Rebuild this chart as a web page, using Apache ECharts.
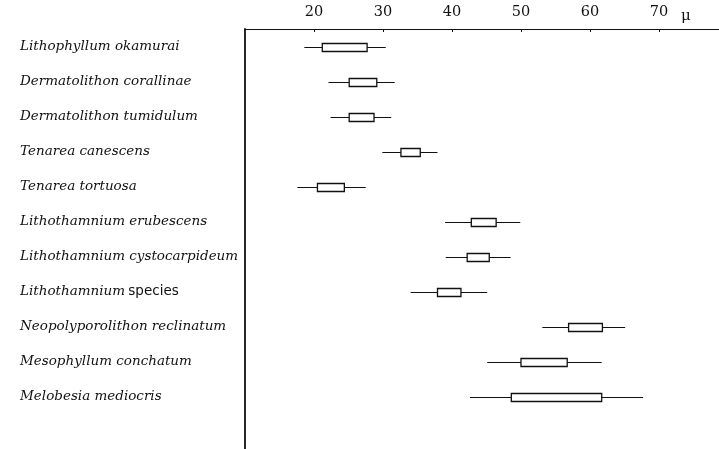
<!DOCTYPE html>
<html>
<head>
<meta charset="utf-8">
<script src="https://cdn.jsdelivr.net/npm/echarts@6/dist/echarts.min.js"></script>
<style>html,body{margin:0;padding:0;background:#fff;}#c{width:719px;height:449px;}</style>
</head>
<body>
<div id="c"></div>
<script>
var categories = [
  'Lithophyllum okamurai',
  'Dermatolithon corallinae',
  'Dermatolithon tumidulum',
  'Tenarea canescens',
  'Tenarea tortuosa',
  'Lithothamnium erubescens',
  'Lithothamnium cystocarpideum',
  'Lithothamnium species',
  'Neopolyporolithon reclinatum',
  'Mesophyllum conchatum',
  'Melobesia mediocris',
  ''
];
var minVals = [18.6, 22.1, 22.4, 29.9, 17.6, 39.0, 39.1, 34.0, 53.1, 45.1, 42.6];
var q1Vals  = [21.2, 25.1, 25.1, 32.6, 20.5, 42.8, 42.2, 37.9, 56.9, 50.0, 48.6];
var q3Vals  = [27.7, 29.1, 28.7, 35.4, 24.4, 46.4, 45.4, 41.3, 61.8, 56.7, 61.7];
var maxVals = [30.4, 31.7, 31.2, 37.9, 27.5, 49.9, 48.5, 45.1, 65.1, 61.7, 67.7];
var tickValues = [20, 30, 40, 50, 60, 70];
var unitLabel = 'μ';

var data = [];
for (var i = 0; i < minVals.length; i++) {
  data.push([i, minVals[i], q1Vals[i], q3Vals[i], maxVals[i]]);
}

var chart = echarts.init(document.getElementById('c'), null, {renderer: 'canvas'});
chart.setOption({
  animation: false,
  backgroundColor: '#fff',
  title: {
    text: unitLabel, left: 676, top: 4,
    textStyle: {fontFamily: 'DejaVu Serif', fontSize: 15, fontWeight: 'normal', color: '#111'}
  },
  grid: {left: 245, right: 0, top: 29, height: 422, containLabel: false},
  xAxis: {
    type: 'value', position: 'top', min: 10, max: 78.7, interval: 10,
    axisLine: {show: true, lineStyle: {color: '#111', width: 1}},
    axisTick: {show: true, inside: true, length: 3, lineStyle: {color: '#111'}},
    splitLine: {show: false},
    axisLabel: {
      showMinLabel: false, showMaxLabel: false, margin: 9,
      fontFamily: 'DejaVu Serif', fontSize: 14.5, color: '#111',
      formatter: function (v) { return tickValues.indexOf(v) >= 0 ? String(v) : ''; }
    }
  },
  yAxis: {
    type: 'category', data: categories, inverse: true,
    axisLine: {show: true, lineStyle: {color: '#111', width: 1.8}},
    axisTick: {show: false},
    splitLine: {show: false},
    axisLabel: {
      align: 'left', margin: 225, color: '#111',
      formatter: function (v) {
        if (!v) return '';
        if (v === 'Lithothamnium species') return '{i|Lithothamnium} {n|species}';
        return '{i|' + v + '}';
      },
      rich: {
        i: {fontFamily: 'DejaVu Serif', fontStyle: 'italic', fontSize: 13.5, color: '#111'},
        n: {fontFamily: 'DejaVu Sans', fontSize: 13.5, color: '#111'}
      }
    }
  },
  series: [{
    type: 'custom',
    data: data,
    encode: {x: [1, 2, 3, 4], y: 0},
    renderItem: function (params, api) {
      var c = api.value(0);
      var pMin = api.coord([api.value(1), c]);
      var pQ1 = api.coord([api.value(2), c]);
      var pQ3 = api.coord([api.value(3), c]);
      var pMax = api.coord([api.value(4), c]);
      var y = Math.round(pMin[1]) + 0.5;
      var h = 8;
      return {
        type: 'group',
        children: [
          {type: 'line', shape: {x1: pMin[0], y1: y, x2: pMax[0], y2: y},
           style: {stroke: '#111', lineWidth: 1}},
          {type: 'rect', shape: {x: pQ1[0], y: y - h / 2, width: pQ3[0] - pQ1[0], height: h},
           style: {fill: '#fff', stroke: '#111', lineWidth: 1.3}}
        ]
      };
    }
  }]
});
</script>
</body>
</html>
